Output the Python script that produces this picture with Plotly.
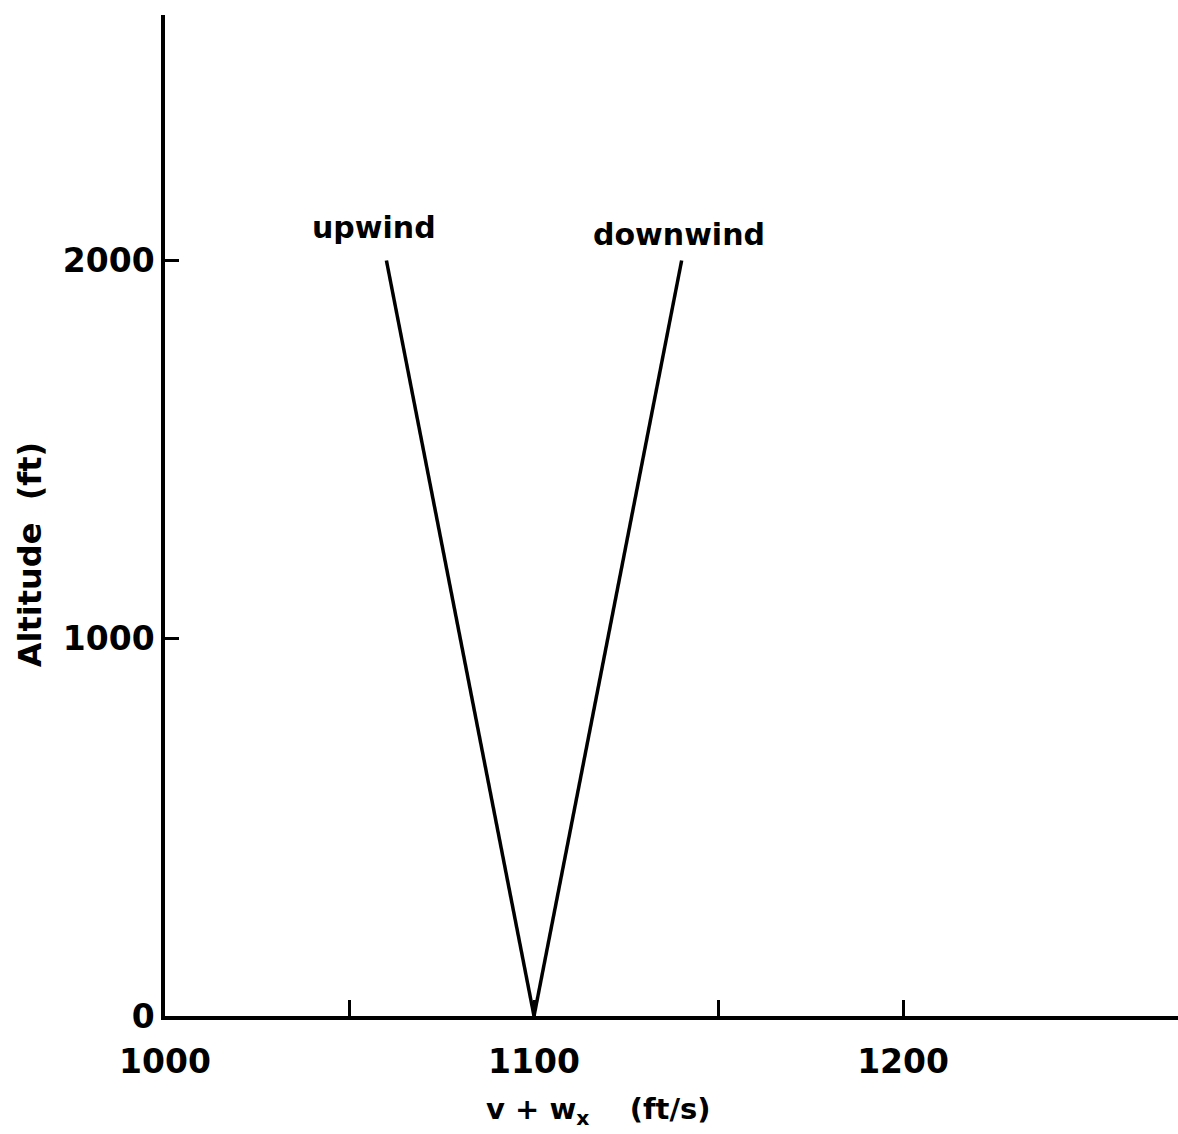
import plotly.graph_objects as go

# data
altitude = [0, 2000]
upwind = [1100, 1060]
downwind = [1100, 1140]
x_ticks = [1000, 1100, 1200]
x_labels = ["1000", "1100", "1200"]
x_minor_ticks = [1050, 1150]
y_ticks = [0, 1000, 2000]
y_labels = ["0", "1000", "2000"]

FONT = "DejaVu Sans"
fig = go.Figure()
fig.add_trace(go.Scatter(x=upwind, y=altitude, mode="lines",
                         line=dict(color="black", width=3.5), showlegend=False))
fig.add_trace(go.Scatter(x=downwind, y=altitude, mode="lines",
                         line=dict(color="black", width=3.5), showlegend=False))

fig.add_annotation(x=upwind[1], y=altitude[1], text="<b>upwind</b>", showarrow=False,
                   yanchor="bottom", yshift=14, xshift=-12,
                   font=dict(family=FONT, size=30, color="black"))
fig.add_annotation(x=downwind[1], y=altitude[1], text="<b>downwind</b>", showarrow=False,
                   yanchor="bottom", yshift=7, xshift=-3,
                   font=dict(family=FONT, size=30, color="black"))

# axis titles placed as in the reference
fig.add_annotation(xref="paper", yref="paper", x=(598 - 165) / 1013, y=-0.095,
                   text="<b>v + w<sub>x</sub>    (ft/s)</b>", showarrow=False,
                   xanchor="center", yanchor="middle",
                   font=dict(family=FONT, size=29, color="black"))
fig.add_annotation(xref="paper", yref="paper", x=-0.133, y=(1016 - 555) / 1001,
                   text="<b>Altitude  (ft)</b>", showarrow=False, textangle=-90,
                   xanchor="center", yanchor="middle",
                   font=dict(family=FONT, size=32, color="black"))

tf = dict(family=FONT, size=33, color="black", weight="bold")
fig.update_xaxes(range=[1000, 1274.5], tickvals=x_ticks, ticktext=x_labels,
                 ticks="inside", ticklen=16, tickwidth=3, tickcolor="black",
                 minor=dict(tickvals=x_minor_ticks, ticks="inside", ticklen=16,
                            tickwidth=3, tickcolor="black", showgrid=False),
                 showline=True, linecolor="black", linewidth=3.5, showgrid=False,
                 zeroline=False, ticklabelstandoff=14, tickfont=tf)
fig.update_yaxes(range=[0, 2650], tickvals=y_ticks, ticktext=y_labels,
                 ticks="inside", ticklen=14, tickwidth=3, tickcolor="black",
                 showline=True, linecolor="black", linewidth=3.5, showgrid=False,
                 zeroline=False, tickfont=tf)

fig.update_layout(width=1178, height=1134, plot_bgcolor="white", paper_bgcolor="white",
                  margin=dict(l=165, r=0, t=15, b=118))
fig.write_html("out.html")
